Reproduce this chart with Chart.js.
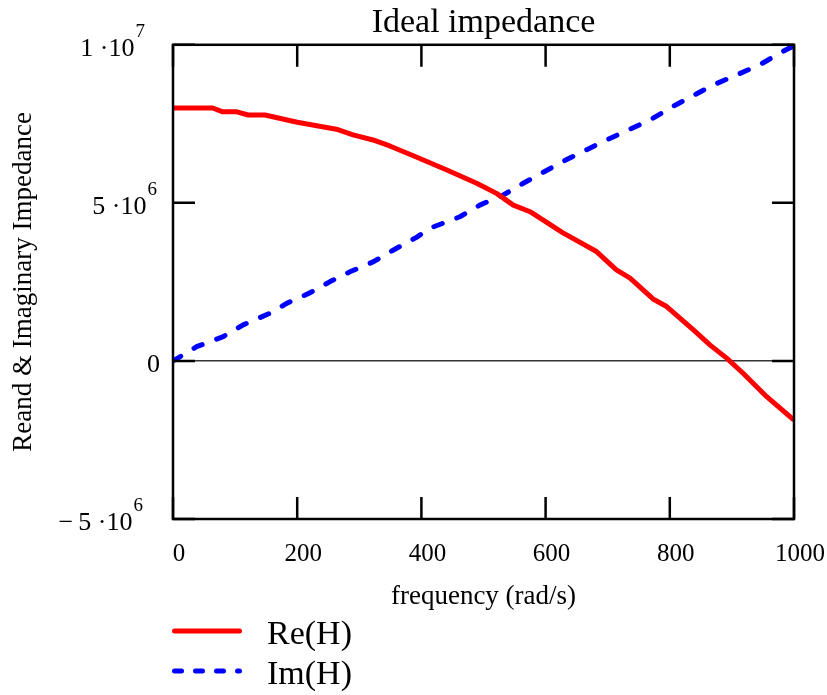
<!DOCTYPE html>
<html>
<head>
<meta charset="utf-8">
<script src="https://cdn.jsdelivr.net/npm/chart.js@4"></script>
<style>
  html, body { margin: 0; padding: 0; background: #ffffff; }
  #wrap { width: 827px; height: 695px; position: relative; }
</style>
</head>
<body>
<div id="wrap"><canvas id="chartImpedance"></canvas></div>
<script>
// ===== IDEAL IMPEDANCE - Re(H) / Im(H) vs frequency =====

const SERIF = "'Liberation Serif', 'Times New Roman', serif";

// Re(H)
const reFreq = [0, 64, 80, 103, 121, 148, 200, 263, 290, 322, 349, 387, 441, 489, 521, 548, 575, 628, 682, 714, 736, 773, 795, 838, 865, 892, 918, 956, 1000];
const reH = [8.0e6, 8.0e6, 7.88e6, 7.88e6, 7.78e6, 7.78e6, 7.55e6, 7.33e6, 7.15e6, 6.99e6, 6.80e6, 6.49e6, 6.04e6, 5.62e6, 5.30e6, 4.93e6, 4.72e6, 4.05e6, 3.46e6, 2.88e6, 2.62e6, 1.96e6, 1.72e6, 0.98e6, 0.50e6, 0.08e6, -0.39e6, -1.13e6, -1.87e6];

// Im(H)
const imFreq = [0, 38, 81, 113, 156, 183, 221, 253, 285, 323, 355, 392, 414, 462, 494, 532, 564, 628, 698, 768, 805, 870, 908, 945, 982, 1000];
const imH = [0, 0.45e6, 0.77e6, 1.14e6, 1.51e6, 1.82e6, 2.16e6, 2.51e6, 2.82e6, 3.14e6, 3.51e6, 3.91e6, 4.20e6, 4.56e6, 4.93e6, 5.25e6, 5.62e6, 6.31e6, 6.99e6, 7.62e6, 8.05e6, 8.73e6, 9.05e6, 9.37e6, 9.79e6, 9.97e6];

const seriesLabels = ['Re(H)', 'Im(H)'];

// axis ticks
const xTicks = [0, 200, 400, 600, 800, 1000];
const yTicks = [-5e6, 0, 5e6, 1e7];
const yTickMant = ['\u2212\u20095 \u00b710', '0', '5 \u00b710', '1 \u00b710'];
const yTickExp = ['6', '', '6', '7'];

// inward ticks on all four sides, frame, and y labels with superscripts
const frameTicks = {
  id: 'frameTicks',
  afterDatasetsDraw(chart) {
    const { ctx, chartArea: a, scales: { x, y } } = chart;
    const len = 22;
    ctx.save();
    ctx.strokeStyle = '#000';
    ctx.lineWidth = 2.5;
    ctx.beginPath();
    xTicks.forEach(v => {
      const px = x.getPixelForValue(v);
      ctx.moveTo(px, a.bottom); ctx.lineTo(px, a.bottom - len);
      ctx.moveTo(px, a.top); ctx.lineTo(px, a.top + len);
    });
    yTicks.forEach(v => {
      const py = y.getPixelForValue(v);
      ctx.moveTo(a.left, py); ctx.lineTo(a.left + len, py);
      ctx.moveTo(a.right, py); ctx.lineTo(a.right - len, py);
    });
    ctx.stroke();
    ctx.strokeRect(a.left, a.top, a.right - a.left, a.bottom - a.top);

    // gap between label end and the frame, per tick (mathcad does not right-align these)
    const gaps = [30, 13, 16, 28];
    ctx.fillStyle = '#000';
    ctx.textBaseline = 'middle';
    yTicks.forEach((v, i) => {
      const py = y.getPixelForValue(v) + 4;
      const right = a.left - gaps[i];
      ctx.font = `19px ${SERIF}`;
      const ew = yTickExp[i] ? ctx.measureText(yTickExp[i]).width : 0;
      if (yTickExp[i]) {
        ctx.textAlign = 'left';
        ctx.fillText(yTickExp[i], right - ew, py - 17);
      }
      ctx.font = `26px ${SERIF}`;
      ctx.textAlign = 'right';
      ctx.fillText(yTickMant[i], right - ew - (ew ? 1 : 0), py);
    });
    ctx.restore();
  }
};

// legend stacked under the plot, long line samples
const lineLegend = {
  id: 'lineLegend',
  afterDraw(chart) {
    const { ctx, chartArea: a } = chart;
    chart.data.datasets.forEach((ds, i) => {
      const ly = a.bottom + 112 + i * 40;
      ctx.save();
      ctx.strokeStyle = ds.borderColor;
      ctx.lineWidth = ds.borderWidth;
      ctx.lineCap = 'round';
      ctx.setLineDash(ds.borderDash ? [7, 14] : []);
      ctx.beginPath();
      ctx.moveTo(a.left + 1.5, ly);
      ctx.lineTo(a.left + 66.5, ly);
      ctx.stroke();
      ctx.setLineDash([]);
      ctx.font = `34px ${SERIF}`;
      ctx.fillStyle = '#000';
      ctx.textAlign = 'left';
      ctx.textBaseline = 'middle';
      ctx.fillText(ds.label, a.left + 94, ly + 4);
      ctx.restore();
    });
  }
};

const ctx = document.getElementById('chartImpedance');
new Chart(ctx, {
  type: 'line',
  data: {
    datasets: [
      {
        label: seriesLabels[0],
        data: reFreq.map((f, i) => ({ x: f, y: reH[i] })),
        borderColor: '#ff0000',
        borderWidth: 5,
        borderJoinStyle: 'round',
        pointRadius: 0,
        tension: 0,
        fill: false,
      },
      {
        label: seriesLabels[1],
        data: imFreq.map((f, i) => ({ x: f, y: imH[i] })),
        borderColor: '#0000ff',
        borderWidth: 5,
        borderDash: [9, 15.5],
        borderCapStyle: 'round',
        borderJoinStyle: 'round',
        pointRadius: 0,
        tension: 0,
        fill: false,
      }
    ]
  },
  options: {
    responsive: true,
    maintainAspectRatio: false,
    animation: false,
    layout: { padding: { left: 0, right: 33, top: 0, bottom: 80 } },
    plugins: {
      legend: { display: false },
      tooltip: { enabled: false },
      title: {
        display: true,
        text: 'Ideal impedance',
        fullSize: false,
        color: '#000',
        font: { family: SERIF, size: 34, weight: 'normal', lineHeight: 1.2 },
        padding: { top: 3, bottom: 1 }
      }
    },
    scales: {
      x: {
        type: 'linear',
        min: 0,
        max: 1000,
        grid: { display: false },
        border: { display: false },
        ticks: {
          stepSize: 200,
          autoSkip: false,
          maxRotation: 0,
          padding: 12,
          labelOffset: 6,
          color: '#000',
          font: { family: SERIF, size: 25 },
          callback: v => String(v)
        },
        title: {
          display: true,
          text: 'frequency (rad/s)',
          color: '#000',
          font: { family: SERIF, size: 27 },
          padding: { top: 0, bottom: 2 }
        },
        afterFit(scale) {
          scale.height = 96;
          scale.paddingLeft = 0;
          scale.paddingRight = 0;
        }
      },
      y: {
        min: -5e6,
        max: 1e7,
        border: { display: false },
        grid: {
          drawTicks: false,
          lineWidth: 1.5,
          color: c => (c.tick && c.tick.value === 0 ? '#333333' : 'rgba(0,0,0,0)')
        },
        ticks: { display: false, stepSize: 5e6 },
        title: {
          display: true,
          text: 'Reand & Imaginary Impedance',
          color: '#000',
          font: { family: SERIF, size: 27 },
          padding: { top: 8, bottom: 0 }
        },
        afterFit(scale) {
          scale.width = 173;
        }
      }
    }
  },
  plugins: [frameTicks, lineLegend]
});
</script>
</body>
</html>
